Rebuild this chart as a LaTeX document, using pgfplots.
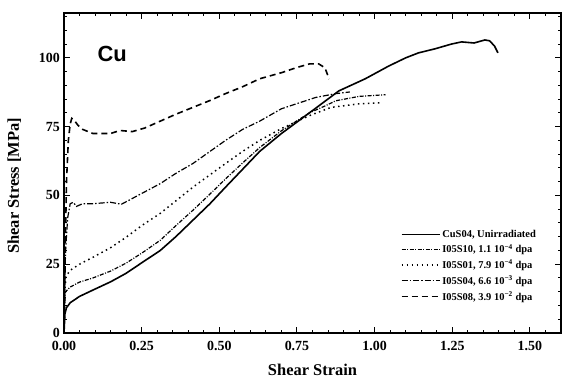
\documentclass[border=0pt]{standalone}
\usepackage{pgfplots}
\pgfplotsset{compat=1.18}
\usepackage{fontspec}
\setmainfont{Liberation Serif}
\newfontfamily\helv{Liberation Sans}
\begin{document}
\begin{tikzpicture}
\begin{axis}[
  scale only axis, width=497bp, height=320bp,
  xmin=0, xmax=1.6, ymin=0, ymax=116.3,
  xtick={0,0.25,0.5,0.75,1,1.25,1.5},
  ytick={0,25,50,75,100},
  minor xtick={0.05,0.1,0.15,0.2,0.3,0.35,0.4,0.45,0.55,0.6,0.65,0.7,0.8,0.85,0.9,0.95,1.05,1.1,1.15,1.2,1.3,1.35,1.4,1.45,1.55},
  minor ytick={5,10,15,20,30,35,40,45,55,60,65,70,80,85,90,95,105,110,115},
  tick align=inside, xtick pos=both, ytick pos=both,
  xticklabel pos=lower, yticklabel pos=left,
  major tick length=6bp, minor tick length=3bp,
  every tick/.style={black, line width=1bp},
  axis line style={line width=1.4bp},
  /pgf/number format/assume math mode=true,
  tick label style={font=\fontsize{14}{16}\selectfont\bfseries, inner sep=1bp},
  xticklabel style={yshift=-7bp, /pgf/number format/.cd, fixed, fixed zerofill, precision=2},
  yticklabel style={xshift=-3bp, /pgf/number format/.cd, fixed, precision=0},
  xlabel={Shear Strain}, ylabel={Shear Stress [MPa]},
  label style={font=\fontsize{16.5}{18}\selectfont\bfseries},
  xlabel style={at={(axis description cs:0.5,-0.115)}, anchor=center},
  ylabel style={at={(axis description cs:-0.1,0.46)}, anchor=center},
  legend style={draw=none, fill=none, at={(0.96,0.335)}, anchor=north east,
    font=\fontsize{10.5}{12}\selectfont\bfseries, row sep=1.5bp},
  legend cell align=left,
  legend image code/.code={\draw[#1] (0bp,0bp) -- (38bp,0bp);},
]
\addplot[black, line width=1.6bp] coordinates {
(0,0) (0.003,7) (0.008,9.2) (0.02,11) (0.05,13.3) (0.093,15.6) (0.15,18.6) (0.2,21.7)
(0.25,25.5) (0.31,30) (0.36,35) (0.415,41) (0.47,47) (0.52,53) (0.575,59.5) (0.63,66)
(0.70,72.5) (0.79,80) (0.885,88) (0.97,92.4) (1.045,97) (1.10,100) (1.141,101.8)
(1.195,103.3) (1.247,105) (1.28,105.8) (1.32,105.4) (1.355,106.5) (1.37,106.2)
(1.386,104.3) (1.397,101.8)};
\addlegendentry{CuS04, Unirradiated}
\addplot[black, line width=1.2bp, dash pattern=on 4bp off 1.5bp on 1bp off 1.5bp] coordinates {
(0,0) (0.002,10) (0.005,15) (0.02,16.7) (0.05,18.5) (0.093,20) (0.15,22.5) (0.2,25.4)
(0.25,29) (0.31,33.7) (0.36,39) (0.415,44.6) (0.47,50.5) (0.52,56) (0.575,61.8)
(0.63,67.4) (0.70,73.5) (0.79,80) (0.84,82.5) (0.875,84.4) (0.95,86) (1.035,86.6)};
\addlegendentry{I05S10, 1.1 10\textsuperscript{−4} dpa}
\addplot[black, line width=1.5bp, dash pattern=on 1.5bp off 3.5bp] coordinates {
(0,0) (0.003,15) (0.006,20.5) (0.02,22.8) (0.05,25) (0.093,27.5) (0.15,31) (0.2,34.8)
(0.25,39) (0.31,43.5) (0.36,48) (0.415,53) (0.47,57.5) (0.52,61.6) (0.575,66) (0.63,70)
(0.70,74.3) (0.79,79) (0.86,82) (0.95,83.3) (1.02,83.7)};
\addlegendentry{I05S01, 7.9 10\textsuperscript{−4} dpa}
\addplot[black, line width=1.2bp, dash pattern=on 6bp off 2bp on 1.5bp off 2bp] coordinates {
(0,0) (0.005,30) (0.012,42) (0.02,47) (0.03,47.5) (0.04,46) (0.06,47) (0.093,47)
(0.15,47.5) (0.185,46.8) (0.25,50.7) (0.31,54.3) (0.36,58) (0.415,61.6) (0.47,66)
(0.52,70) (0.575,74) (0.63,77) (0.70,81.5) (0.81,85.6) (0.875,87) (0.92,87.6)};
\addlegendentry{I05S04, 6.6 10\textsuperscript{−3} dpa}
\addplot[black, line width=1.6bp, dash pattern=on 6bp off 4bp] coordinates {
(0,0) (0.004,30) (0.008,55) (0.014,70) (0.02,76) (0.025,78) (0.035,77) (0.045,75.5)
(0.06,74) (0.093,72.5) (0.15,72.5) (0.18,73.6) (0.22,73.2) (0.26,74.5) (0.31,77)
(0.36,79.5) (0.415,82) (0.47,84.5) (0.52,87) (0.575,89.5) (0.63,92.4) (0.70,94.6)
(0.75,96.5) (0.79,97.8) (0.82,97.8) (0.84,96.4) (0.848,94) (0.853,92.3)};
\addlegendentry{I05S08, 3.9 10\textsuperscript{−2} dpa}
\node[font=\helv\bfseries\fontsize{22}{24}\selectfont] at (axis cs:0.155,101.5) {Cu};
\end{axis}
\path ([shift={(-64bp,-49bp)}]current axis.south west) rectangle ([shift={(2bp,13bp)}]current axis.north east);
\end{tikzpicture}
\end{document}
